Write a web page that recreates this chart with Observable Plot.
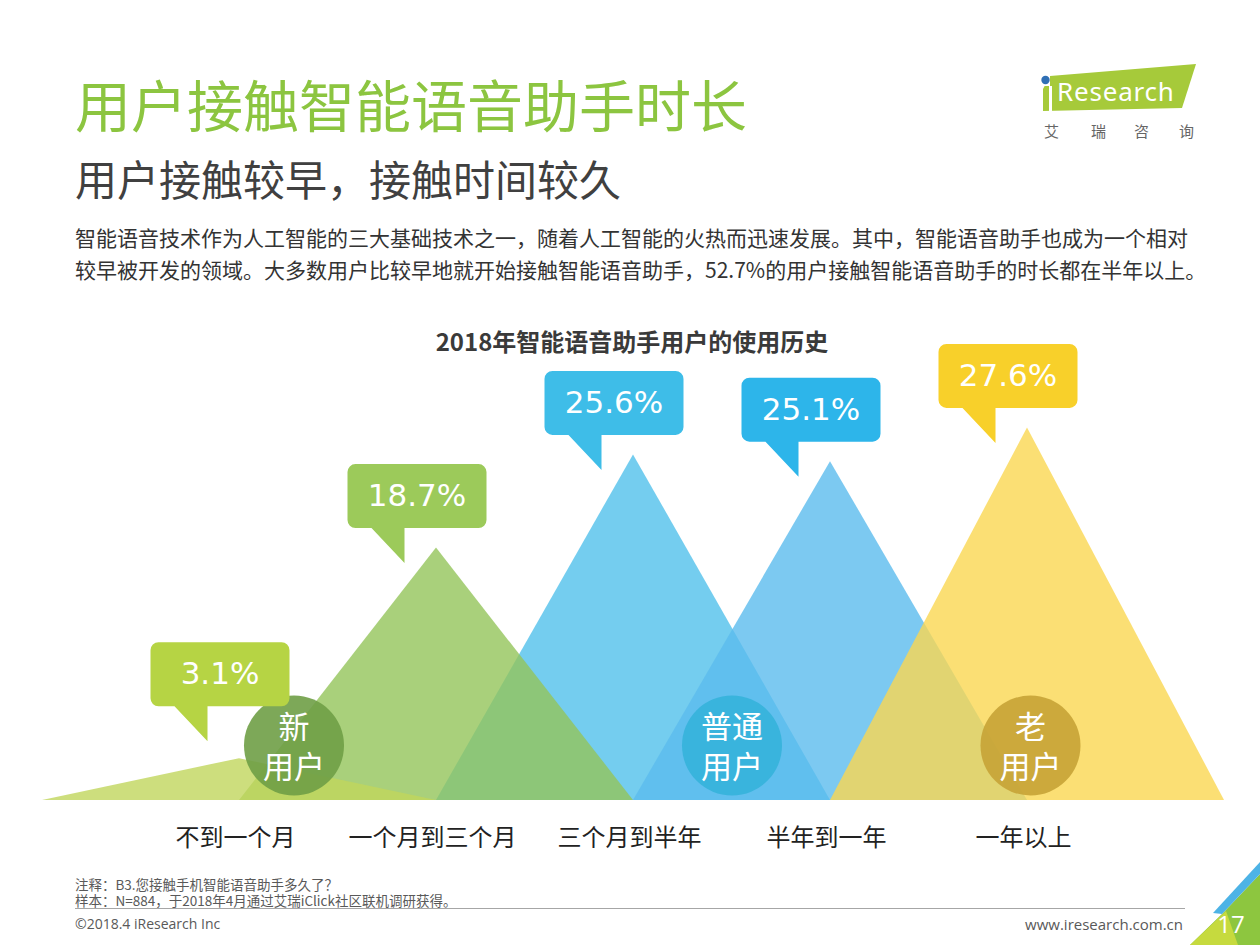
<!DOCTYPE html>
<html>
<head>
<meta charset="utf-8">
<script src="https://cdn.jsdelivr.net/npm/d3@7"></script>
<script src="https://cdn.jsdelivr.net/npm/@observablehq/plot@0.6"></script>
<style>
  body { margin: 0; background: #fff; }
  #page { position: relative; width: 1260px; height: 945px; overflow: hidden; background: #fff;
          font-family: "Noto Sans CJK SC", "Noto Sans", sans-serif; }
  .abs { position: absolute; white-space: nowrap; }
  #title { left: 75px; top: 73px; font-size: 56px; line-height: 60px; color: #8cc540; }
  #subtitle { left: 75px; top: 155px; font-size: 42px; line-height: 46px; color: #404040; }
  #para { left: 75px; top: 221px; font-size: 21px; line-height: 32px; color: #333; }
  #ctitle { left: 2px; width: 1260px; text-align: center; top: 327px; font-size: 24px; line-height: 28px;
            font-weight: bold; color: #3a3a3a; }
  #chart { position: absolute; left: 0; top: 300px; }
  .foot { font-size: 13.5px; line-height: 14px; color: #595959; }
  #note1 { left: 75px; top: 877px; }
  #note2 { left: 75px; top: 893px; }
  #rule { position: absolute; left: 75px; top: 908px; width: 1110px; height: 1px; background: #a6a6a6; }
  #copy { left: 75px; top: 915px; font-family: "Open Sans", sans-serif; font-size: 14px; line-height: 18px; color: #595959; }
  #web { right: 77px; top: 915px; font-family: "Open Sans", sans-serif; font-size: 15px; line-height: 18px; color: #595959; }
  #deco { position: absolute; left: 0; top: 0; }
</style>
</head>
<body>
<div id="page">
  <div class="abs" id="title">用户接触智能语音助手时长</div>
  <div class="abs" id="subtitle">用户接触较早，接触时间较久</div>
  <div class="abs" id="para">智能语音技术作为人工智能的三大基础技术之一，随着人工智能的火热而迅速发展。其中，智能语音助手也成为一个相对<br>较早被开发的领域。大多数用户比较早地就开始接触智能语音助手，52.7%的用户接触智能语音助手的时长都在半年以上。</div>
  <div class="abs" id="ctitle"></div>
  <div class="abs foot" id="note1">注释：B3.您接触手机智能语音助手多久了？</div>
  <div class="abs foot" id="note2">样本：N=884，于2018年4月通过艾瑞iClick社区联机调研获得。</div>
  <div id="rule"></div>
  <div class="abs" id="copy">©2018.4 iResearch Inc</div>
  <div class="abs" id="web">www.iresearch.com.cn</div>
  <svg id="deco" width="1260" height="945" style="pointer-events:none">
    <!-- logo -->
    <polygon points="1043,89 1050,76 1196,64 1182,108 1043,111" fill="#a6ca3a"/>
    <rect x="1041" y="74" width="9" height="12" fill="#fff"/>
    <rect x="1049" y="86" width="3" height="26" fill="#fff"/>
    <circle cx="1045.5" cy="80" r="4.2" fill="#2f6fb5"/>
    <text x="1057" y="101" fill="#fff" font-family="Noto Sans, sans-serif" font-size="26" letter-spacing="0.8">Research</text>
    <g font-family="Noto Sans CJK SC" font-size="15" fill="#666">
      <text x="1044" y="137">艾</text>
      <text x="1091" y="137">瑞</text>
      <text x="1134" y="137">咨</text>
      <text x="1179" y="137">询</text>
    </g>
    <!-- corner -->
    <polygon points="1190,945 1222,914 1260,874 1260,945" fill="#8dc63f"/>
    <polygon points="1190,945 1226,911 1238,945" fill="#c6da3e"/>
    <polygon points="1213,913 1260,862 1260,874 1222,914" fill="#4db3e6"/>
    <text x="1231" y="933" text-anchor="middle" fill="#fff" font-family="Open Sans, sans-serif" font-size="24">17</text>
  </svg>
</div>
<script>
// ---- data ----
const chartTitle = "2018年智能语音助手用户的使用历史";
const categories = ["不到一个月", "一个月到三个月", "三个月到半年", "半年到一年", "一年以上"];
const shares = [3.1, 18.7, 25.6, 25.1, 27.6];
const groupLabels = ["新\n用户", "普通\n用户", "老\n用户"];
const groupSpans = [[0, 1], [2, 3], [4, 4]];

// ---- styles ----
const triColors = ["#c1d65d", "#93c45a", "#51c1eb", "#5bbcee", "#fad751"];
const bubbleColors = ["#b6d444", "#9cca5a", "#3ebde8", "#2db5ea", "#f8d02a"];
const circleColors = ["#6f9f46", "#35b2da", "#c7a336"];
const circleNudge = [-44, 0, 3];
const drawOrder = [2, 3, 4, 1, 0];
const calloutMin = 5.5;

document.getElementById("ctitle").textContent = chartTitle;

const rows = categories.map((c, i) => ({cat: c, i, value: shares[i]}));
const triPts = drawOrder.flatMap(i => [
  {i, x: i - 1, y: 0},
  {i, x: i, y: shares[i]},
  {i, x: i + 1, y: 0}
]);
const groups = groupLabels.map((label, k) => ({k, label, pos: (groupSpans[k][0] + groupSpans[k][1]) / 2}));

// speech bubble symbol, tip at origin
const callout = {
  draw(ctx) {
    const L = -57, R = 82, T = -99, B = -35, r = 8;
    ctx.moveTo(L + r, T);
    ctx.lineTo(R - r, T);
    ctx.arcTo(R, T, R, T + r, r);
    ctx.lineTo(R, B - r);
    ctx.arcTo(R, B, R - r, B, r);
    ctx.lineTo(0, B);
    ctx.lineTo(0, 0);
    ctx.lineTo(-33, B);
    ctx.lineTo(L + r, B);
    ctx.arcTo(L, B, L, B - r, r);
    ctx.lineTo(L, T + r);
    ctx.arcTo(L, T, L + r, T, r);
    ctx.closePath();
  }
};

const circleMarks = groups.flatMap(g => [
  Plot.dot([g], {x: "pos", frameAnchor: "bottom", dy: -55, dx: circleNudge[g.k], r: 50,
    fill: circleColors[g.k], fillOpacity: 0.9}),
  Plot.text([g], {x: "pos", frameAnchor: "bottom", dy: -55, dx: circleNudge[g.k], text: "label",
    fill: "#fff", fontSize: 31, lineHeight: 1.26, lineAnchor: "middle"})
]);

const chart = Plot.plot({
  width: 1260,
  height: 570,
  marginLeft: 42,
  marginRight: 36,
  marginTop: 95,
  marginBottom: 70,
  x: {domain: [-1, 5], axis: null},
  y: {domain: [0, 30], axis: null},
  color: {type: "identity"},
  style: {fontFamily: "'Noto Sans CJK SC', sans-serif", background: "transparent", fontSize: "16px"},
  marks: [
    Plot.area(triPts, {x1: "x", y1: 0, y2: "y", z: "i", fill: d => triColors[d.i], fillOpacity: 0.8}),
    ...circleMarks,
    Plot.dot(rows, {x: "i", y: d => Math.max(d.value, calloutMin), dx: -32, dy: 15, symbol: callout,
      fill: d => bubbleColors[d.i]}),
    Plot.text(rows, {x: "i", y: d => Math.max(d.value, calloutMin), dx: -19.5, dy: -52,
      text: d => d.value.toFixed(1) + "%", fill: "#fff", fontSize: 31, fontFamily: "DejaVu Sans",
      lineAnchor: "middle"}),
    Plot.text(rows, {x: "i", frameAnchor: "bottom", dy: 38, dx: -4, text: "cat", fontSize: 24, fill: "#222",
      lineAnchor: "middle"})
  ]
});
chart.id = "chart";
document.getElementById("page").appendChild(chart);
</script>
</body>
</html>
